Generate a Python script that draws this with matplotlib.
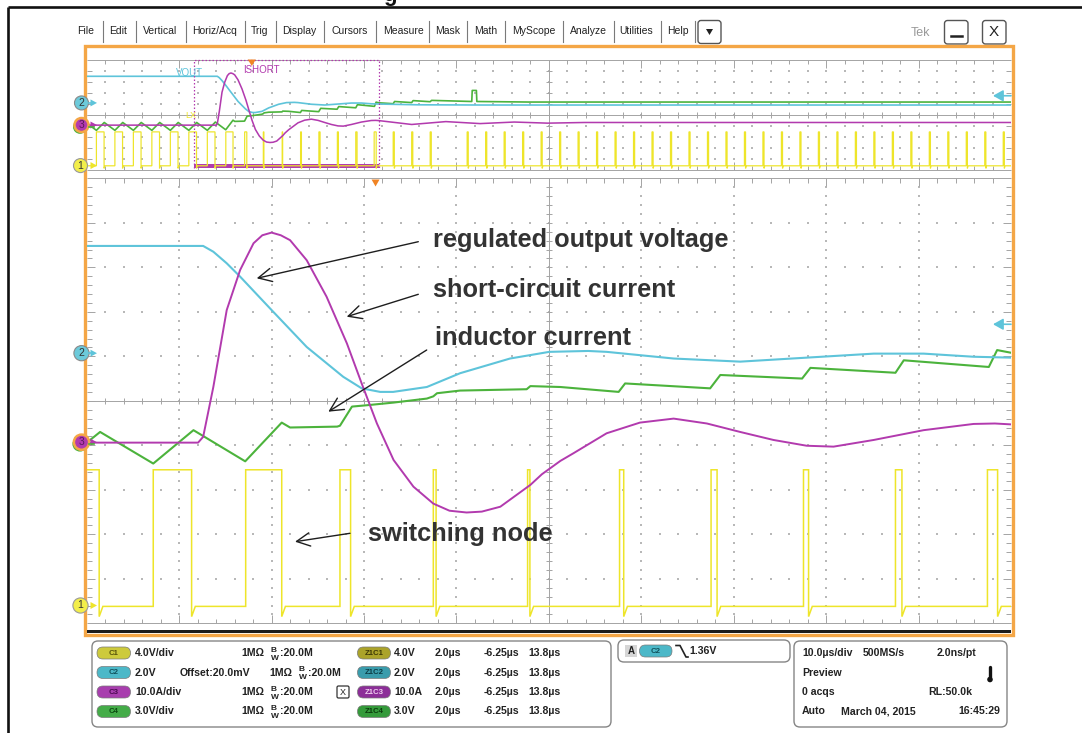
import matplotlib
matplotlib.use("Agg")
import matplotlib.pyplot as plt
from matplotlib.patches import Rectangle, FancyBboxPatch, Circle, Polygon
from matplotlib.collections import LineCollection

plt.rcParams["font.family"] = ["Liberation Sans", "DejaVu Sans"]
plt.rcParams["mathtext.fontset"] = "custom"
plt.rcParams["mathtext.bf"] = "Liberation Sans:bold"
plt.rcParams["mathtext.rm"] = "Liberation Sans"

W, H = 1082, 733

# ---------------- data: time in microseconds (0 = trigger), level in divisions ----------------
OV_T0, OV_T1 = -17.86, 82.14          # overview record (10 us/div)
ZM_T0, ZM_T1 = -6.25, 13.75           # zoom window (2 us/div)

vout_t = [-17.86, -3.73, -3.51, -3.22, -2.93, -2.25, -1.49, -0.70, -0.30, 0.10, 0.38, 1.11,
          1.83, 2.91, 3.76, 4.60, 5.00, 6.45, 7.89, 9.33, 10.78, 11.86, 12.94, 13.75, 18.0,
          25.0, 40.0, 82.14]
vout_v = [3.48, 3.48, 3.35, 3.09, 2.79, 2.04, 1.21, 0.54, 0.28, 0.20, 0.20, 0.31,
          0.62, 0.95, 1.10, 1.12, 1.10, 0.95, 0.88, 0.97, 1.06, 1.06, 0.99, 0.97, 0.90,
          0.88, 0.88, 0.88]

ishort_t = [-17.86, -3.84, -3.73, -3.51, -3.22, -2.93, -2.64, -2.45, -2.25, -2.05, -1.85,
            -1.49, -1.06, -0.62, -0.30, 0.03, 0.39, 0.82, 1.25, 1.60, 1.97, 2.30, 2.70,
            3.35, 3.60, 4.00, 4.28, 5.00, 5.72, 6.45, 7.17, 7.89, 8.61, 9.33, 9.91, 10.78,
            11.86, 12.94, 13.40, 13.75, 17.3, 21.0, 24.7, 28.4, 32.0, 36.0, 82.14]
ishort_v = [-0.94, -0.94, -0.81, 0.31, 2.04, 2.94, 3.54, 3.72, 3.78, 3.72, 3.61,
            3.16, 2.34, 1.29, 0.39, -0.51, -1.33, -1.93, -2.31, -2.47, -2.51, -2.49, -2.38,
            -1.89, -1.65, -1.35, -1.18, -0.73, -0.49, -0.40, -0.51, -0.70, -0.88, -1.01, -1.03, -0.88,
            -0.66, -0.52, -0.51, -0.53, -0.88, -0.62, -0.80, -0.66, -0.76, -0.70, -0.70]

il_t = [-17.96, -16.81, -15.96, -14.81, -13.96, -12.81, -11.96, -10.81, -9.96, -8.81,
        -7.96, -6.81, -5.96, -4.81, -3.94, -2.82, -2.03, -1.85, -0.83, -0.77, -0.51, -0.19,
        0.39, 1.11, 1.25, 1.33, 1.83, 3.27, 3.35, 4.00, 5.26, 5.40, 7.24, 7.46, 9.23, 9.41,
        11.25, 11.43, 13.27, 13.45, 13.75, 15.30, 15.45, 17.30, 17.45, 19.30, 19.45,
        23.80, 23.85, 24.30, 24.35, 30.0, 82.14]
il_v = [-0.70, -1.41, -0.70, -1.41, -0.70, -1.41, -0.70, -1.41, -0.70, -1.41,
        -0.70, -1.41, -0.70, -1.41, -0.66, -1.36, -0.49, -0.60, -0.58, -0.56, -0.13, -0.10,
        -0.04, 0.05, 0.10, 0.17, 0.23, 0.26, 0.33, 0.31, 0.20, 0.39, 0.28, 0.58, 0.50, 0.74,
        0.63, 0.91, 0.76, 1.14, 1.08, 1.00, 1.20, 1.10, 1.28, 1.18, 1.30,
        1.20, 2.20, 2.20, 1.20, 1.15, 1.15]

sw_rise = [-16.81, -14.81, -12.81, -10.81, -8.81, -6.81, -4.81, -2.81, -0.77, 1.25, 3.29,
           5.28, 7.26, 9.26, 11.25, 13.24, 15.30, 17.30, 19.30, 23.30, 25.30, 27.30, 29.30,
           31.30, 33.30, 35.30, 37.30, 39.30, 41.30, 43.30, 45.30, 47.30, 49.30, 51.30,
           53.30, 55.30, 57.30, 59.30, 61.30, 63.30, 65.30, 67.30, 69.30, 71.30, 73.30,
           75.30, 77.30, 79.30, 81.30]
sw_fall = [-15.98, -13.98, -11.98, -9.98, -7.98, -5.98, -3.98, -2.03, -0.54, 1.31, 3.34,
           5.37, 7.39, 9.37, 11.39, 13.46, 15.42, 17.42, 19.42, 23.42, 25.42, 27.42, 29.42,
           31.42, 33.42, 35.42, 37.42, 39.42, 41.42, 43.42, 45.42, 47.42, 49.42, 51.42,
           53.42, 55.42, 57.42, 59.42, 61.42, 63.42, 65.42, 67.42, 69.42, 71.42, 73.42,
           75.42, 77.42, 79.42, 81.42]
SW_LOW, SW_HIGH, SW_DIP = -4.62, -1.55, -4.85

ch_marker_level = {"2": 1.07, "3": -0.93, "1": -4.60}
REF_LEVEL = 1.72
TRIG_T = 0.0

menu_items = ["File", "Edit", "Vertical", "Horiz/Acq", "Trig", "Display", "Cursors",
              "Measure", "Mask", "Math", "MyScope", "Analyze", "Utilities", "Help"]
ch_names = ["C1", "C2", "C3", "C4"]
ch_scale = ["4.0V/div", "2.0V", "10.0A/div", "3.0V/div"]
zoom_names = ["Z1C1", "Z1C2", "Z1C3", "Z1C4"]
zoom_scale = ["4.0V", "2.0V", "10.0A", "3.0V"]
zoom_tdiv, zoom_start, zoom_end = "2.0µs", "-6.25µs", "13.8µs"

# ---------------- styling / layout ----------------
CYAN, MAGENTA, GREEN, YELLOW = "#5ec4da", "#b23aae", "#4cb33c", "#eee52a"
ORANGE, TRIG_OR = "#f4a646", "#f08424"
GRID, DOT, TXT = "#a4a4a4", "#b8b8b8", "#333333"
PILL = {"C1": ("#cdca3c", "#55520a"), "C2": ("#4cb8c8", "#10505a"),
        "C3": ("#a83eae", "#4a0a50"), "C4": ("#44ac48", "#0c4a10"),
        "Z1C1": ("#aba32a", "#3c3806"), "Z1C2": ("#3a9cac", "#0c3c44"),
        "Z1C3": ("#8c2e98", "#f0d0f0"), "Z1C4": ("#349a3a", "#0a3a0c")}

MX0, MY0, MX1, MY1 = 86.7, 178.3, 1011.0, 623.3
OX0, OY0, OX1, OY1 = 86.7, 59.5, 1011.0, 170.0

fig = plt.figure(figsize=(W / 100, H / 100), dpi=100)
bg = fig.add_axes([0, 0, 1, 1], zorder=0)
bg.set_xlim(0, W); bg.set_ylim(H, 0); bg.axis("off")
fg = fig.add_axes([0, 0, 1, 1], zorder=20)
fg.set_xlim(0, W); fg.set_ylim(H, 0); fg.axis("off"); fg.patch.set_alpha(0)

# outer black frame
bg.plot([8.3, 8.3], [733, 7], color="#111111", lw=1.9, solid_capstyle="butt")
bg.plot([8.3, 1082], [7, 7], color="#111111", lw=1.9, solid_capstyle="butt")
fg.text(383, 0.5, "g", fontsize=16, fontweight="bold", color="#111111", va="baseline")

# menu bar
menu_cx = [86, 118.5, 160.5, 215, 259.5, 299.5, 350, 403, 448, 486, 534, 588.5, 636.5, 678]
menu_sep = [102.8, 135.5, 185.5, 244.5, 276, 324, 376, 429, 467, 505, 563.4, 613.6, 660.5, 695]
for name, cx in zip(menu_items, menu_cx):
    bg.text(cx, 31.5, name, fontsize=7.5, color="#222222", ha="center", va="center")
for sx in menu_sep:
    bg.plot([sx, sx], [21, 42], color="#7a7a7a", lw=0.8)
bg.add_patch(FancyBboxPatch((698, 20.5), 23, 23, boxstyle="round,pad=0,rounding_size=3",
                            fc="white", ec="#555555", lw=1.0))
bg.add_patch(Polygon([(706, 29), (713, 29), (709.5, 35)], closed=True, fc="#222222", ec="none"))
bg.text(911, 33, "Tek", fontsize=9, color="#9a9a9a", va="center")
bg.add_patch(FancyBboxPatch((944.5, 20.5), 23.5, 23.5, boxstyle="round,pad=0,rounding_size=3",
                            fc="white", ec="#555555", lw=1.0))
bg.plot([951, 961.5], [35.5, 35.5], color="#222222", lw=1.8)
bg.add_patch(FancyBboxPatch((982.5, 20.5), 23.5, 23.5, boxstyle="round,pad=0,rounding_size=3",
                            fc="white", ec="#555555", lw=1.0))
bg.text(994.2, 32.5, "X", fontsize=11, color="#222222", ha="center", va="center")

# display frame
bg.add_patch(Rectangle((84.8, 46.3), 927.7, 588.7, fc="white", ec=ORANGE, lw=2.4))
bg.add_patch(Rectangle((MX0, 629.6), MX1 - MX0, 3.4, fc="#1c1c1c", ec="none"))


def graticule(x0, y0, x1, y1, fine_y, ylen):
    dx = (x1 - x0) / 10.0
    dy = (y1 - y0) / 10.0
    cx, cy = x0 + 5 * dx, y0 + 5 * dy
    segs = [[(x0, y0), (x1, y0)], [(x0, y1), (x1, y1)],
            [(cx, y0), (cx, y1)], [(x0, cy), (x1, cy)]]
    xd, yd = [], []
    for k in range(1, 50):
        x = x0 + k * dx / 5
        L = 8 if k % 5 == 0 else 4.5
        segs += [[(x, y0), (x, y0 + L)], [(x, y1), (x, y1 - L)], [(x, cy - 3), (x, cy + 3)]]
        for j in range(1, 10):
            if j != 5:
                xd.append(x); yd.append(y0 + j * dy)
    n = 5 if fine_y else 1
    for k in range(1, 10 * n):
        y = y0 + k * dy / n
        L = ylen[0] if k % n == 0 else ylen[1]
        segs += [[(x0, y), (x0 + L, y)], [(x1, y), (x1 - L, y)], [(cx - 3, y), (cx + 3, y)]]
        for i in range(1, 10):
            if i != 5:
                xd.append(x0 + i * dx); yd.append(y)
    bg.add_collection(LineCollection(segs, colors=GRID, linewidths=0.7))
    bg.scatter(xd, yd, s=1.6, c=DOT, marker="s", linewidths=0)


graticule(MX0, MY0, MX1, MY1, True, (8, 5))
graticule(OX0, OY0, OX1, OY1, False, (5, 5))


def data_axes(x0, y0, x1, y1, t0, t1):
    ax = fig.add_axes([x0 / W, 1 - y1 / H, (x1 - x0) / W, (y1 - y0) / H], zorder=5)
    ax.set_xlim(t0, t1); ax.set_ylim(-5, 5); ax.axis("off"); ax.patch.set_alpha(0)
    return ax


sw_t, sw_v = [OV_T0], [SW_LOW]
for r, f in zip(sw_rise, sw_fall):
    sw_t += [r, r, f, f, f + 0.08]
    sw_v += [SW_LOW, SW_HIGH, SW_HIGH, SW_DIP, SW_LOW]
sw_t.append(OV_T1); sw_v.append(SW_LOW)

axm = data_axes(MX0, MY0, MX1, MY1, ZM_T0, ZM_T1)
axo = data_axes(OX0, OY0, OX1, OY1, OV_T0, OV_T1)
for ax, s in ((axm, 1.0), (axo, 0.8)):
    ax.plot(sw_t, sw_v, color=YELLOW, lw=1.1 * s, solid_joinstyle="miter")
    ax.plot(il_t, il_v, color=GREEN, lw=1.5 * s)
    ax.plot(vout_t, vout_v, color=CYAN, lw=1.5 * s)
    ax.plot(ishort_t, ishort_v, color=MAGENTA, lw=1.4 * s)

# zoom window marker in overview
axo.plot([ZM_T0, ZM_T0, ZM_T1, ZM_T1], [-4.86, 5, 5, -4.86], color=MAGENTA, lw=0.9,
         ls=(0, (1.2, 1.6)), clip_on=False)
axo.add_patch(Rectangle((ZM_T0, -4.86), ZM_T1 - ZM_T0, 0.38, fc=MAGENTA, ec="none", clip_on=False))

# overview labels
fg.text(176, 72.5, "VOUT", fontsize=7, color=CYAN, va="center")
fg.text(243, 70, "ISHORT", fontsize=7, color=MAGENTA, va="center")
fg.text(185, 116, "LX", fontsize=6.5, color=YELLOW, va="center")

# trigger markers
ox_trig = OX0 + (TRIG_T - OV_T0) / (OV_T1 - OV_T0) * (OX1 - OX0)
mx_trig = MX0 + (TRIG_T - ZM_T0) / (ZM_T1 - ZM_T0) * (MX1 - MX0)
fg.add_patch(Polygon([(ox_trig - 4, 59.5), (ox_trig + 4, 59.5), (ox_trig, 66)], fc=TRIG_OR, ec="none"))
fg.add_patch(Polygon([(mx_trig - 4, 179.5), (mx_trig + 4, 179.5), (mx_trig, 186.5)], fc=TRIG_OR, ec="none"))


# channel markers
def lvl_px(lvl, y0, y1):
    return (y0 + y1) / 2 - lvl * (y1 - y0) / 10.0


for (y0, y1, r) in ((MY0, MY1, 7.6), (OY0, OY1, 7.0)):
    y2 = lvl_px(ch_marker_level["2"], y0, y1)
    y3 = lvl_px(ch_marker_level["3"], y0, y1)
    y1c = lvl_px(ch_marker_level["1"], y0, y1)
    fg.add_patch(Circle((80.0, y3 + 1.8), r, fc=GREEN, ec="none"))
    fg.add_patch(Circle((81.5, y3), r, fc=MAGENTA, ec=ORANGE, lw=1.8))
    fg.add_patch(Circle((81.5, y2), r, fc="#6ccada", ec="#8a8a8a", lw=0.8))
    fg.add_patch(Circle((80.5, y1c), r, fc="#f2ee4a", ec="#9a9a9a", lw=0.8))
    for yy, c in ((y2, CYAN), (y3, MAGENTA), (y1c, YELLOW)):
        fg.add_patch(Polygon([(90.5, yy - 3.5), (97, yy), (90.5, yy + 3.5)], fc=c, ec="none"))
    fg.plot([89, 94], [y2, y2], color=CYAN, lw=1.2)
    fg.plot([89, 94], [y3 + 1.5, y3 + 1.5], color=GREEN, lw=1.2)
    fg.text(81.5, y2, "2", fontsize=7.5, color="#333333", ha="center", va="center")
    fg.text(81.5, y3, "3", fontsize=7.5, color="#5a1a5a", ha="center", va="center")
    fg.text(80.5, y1c, "1", fontsize=7.5, color="#333333", ha="center", va="center")
    yr = lvl_px(REF_LEVEL, y0, y1)
    fg.annotate("", xy=(993, yr), xytext=(1011, yr),
                arrowprops=dict(arrowstyle="-|>,head_length=0.5,head_width=0.28", color=CYAN,
                                lw=1.2, mutation_scale=12, shrinkA=0, shrinkB=0))

# annotations
ann = [("regulated output voltage", (433.3, 247.3), (418.3, 241.7), (256.7, 278.3)),
       ("short-circuit current", (433.3, 296.7), (418.3, 294.3), (346.7, 316.7)),
       ("inductor current", (435.0, 345.0), (426.7, 350.0), (328.3, 411.7)),
       ("switching node", (368.3, 541.0), (350.0, 533.3), (295.0, 541.7))]
for label, tp, tail, head in ann:
    fg.text(tp[0], tp[1], label, fontsize=18.3, fontweight="bold", color=TXT, va="baseline")
    fg.annotate("", xy=head, xytext=tail,
                arrowprops=dict(arrowstyle="->,head_length=0.6,head_width=0.3", color="#1e1e1e",
                                lw=1.0, mutation_scale=16, shrinkA=0, shrinkB=0))


# bottom panels
def panel(x, y, w, h):
    bg.add_patch(FancyBboxPatch((x, y), w, h, boxstyle="round,pad=0,rounding_size=6",
                                fc="white", ec="#858585", lw=1.0))


def pill(x, yc, w, name):
    fc, tc = PILL[name]
    bg.add_patch(FancyBboxPatch((x, yc - 6), w, 12, boxstyle="round,pad=0,rounding_size=6",
                                fc=fc, ec="#7a7a7a", lw=0.5))
    bg.text(x + w / 2, yc + 0.3, name, fontsize=5.6, color=tc, ha="center", va="center",
            fontweight="bold")


def ptext(x, y, s, **kw):
    kw.setdefault("fontsize", 7.6)
    bg.text(x, y, s, fontweight="bold", color="#222222", va="center", **kw)


panel(92, 641, 519, 86)
panel(618, 640, 172, 22)
panel(794, 641, 213, 86)

rows = [653, 672.5, 692, 711.5]
for i, yc in enumerate(rows):
    pill(97, yc, 33.5, ch_names[i])
    ptext(135, yc, ch_scale[i])
    xo = 269 if i == 1 else 241
    ptext(xo, yc, "1MΩ")
    ptext(xo + 29, yc + 0.2, r"$^{\mathbf{B}}_{\mathbf{W}}$", fontsize=8.6)
    ptext(xo + 39, yc, ":20.0M")
    pill(357.5, yc, 33, zoom_names[i])
    ptext(394, yc, zoom_scale[i])
    ptext(435, yc, zoom_tdiv)
    ptext(483.5, yc, zoom_start)
    ptext(528, yc, zoom_end)
ptext(180, rows[1], "Offset:20.0mV")
bg.add_patch(FancyBboxPatch((337, rows[2] - 6), 12, 12, boxstyle="round,pad=0,rounding_size=1.5",
                            fc="white", ec="#333333", lw=0.9))
bg.text(343, rows[2] + 0.3, "X", fontsize=6.5, color="#222222", ha="center", va="center")

# trigger panel
bg.add_patch(Rectangle((625, 645), 12, 12, fc="#d6d6d6", ec="none"))
bg.text(631, 651.3, "A", fontsize=7, fontweight="bold", color="#222222", ha="center", va="center")
pill(639.5, 651, 32.5, "C2")
bg.plot([676, 680, 686, 688], [645.5, 645.5, 657, 657], color="#222222", lw=1.2)
ptext(689, 651, "1.36V")

# acquisition panel
ptext(802, 653, "10.0µs/div")
ptext(863, 653, "500MS/s")
ptext(937, 653, "2.0ns/pt")
ptext(802, 672.5, "Preview")
ptext(802, 692, "0 acqs")
ptext(928, 692, "RL:50.0k")
ptext(802, 711.5, "Auto")
ptext(841, 711.5, "March 04, 2015")
ptext(1000.5, 711.5, "16:45:29", ha="right")
bg.plot([990, 990], [666.5, 677], color="#111111", lw=2.4, solid_capstyle="round")
bg.add_patch(Circle((990, 679.5), 2.8, fc="#111111", ec="none"))

fig.savefig("out.png", dpi=100, facecolor="white")
